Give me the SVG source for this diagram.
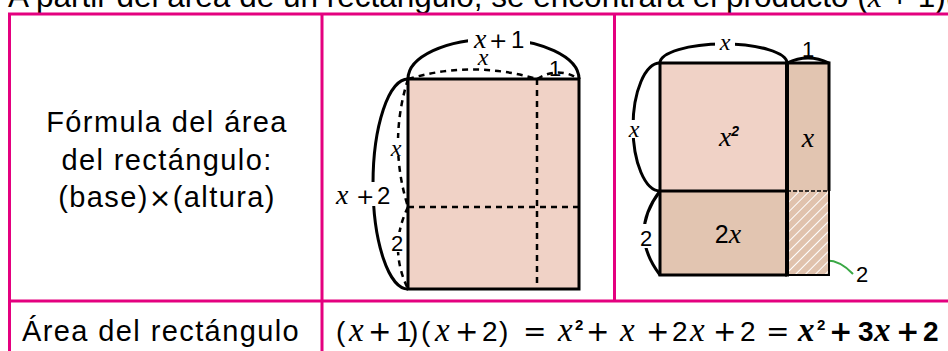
<svg xmlns="http://www.w3.org/2000/svg" width="948" height="351" viewBox="0 0 948 351">
<defs>
<pattern id="hatch" patternUnits="userSpaceOnUse" width="7" height="7" patternTransform="rotate(45)">
<rect width="7" height="7" fill="#e0c2ad"/>
<line x1="0" y1="0" x2="0" y2="7" stroke="#ffffff" stroke-width="2"/>
</pattern>
</defs>
<style>
.t{font-family:"Liberation Sans",Arial,sans-serif;fill:#000}
.i{font-family:"Liberation Serif","Times New Roman",serif;font-style:italic}
.s{font-family:"Liberation Sans",Arial,sans-serif}
.m{font-family:"DejaVu Sans",sans-serif}
.tbl{stroke:#e4007f;stroke-width:3;fill:none}
.solid{fill:none;stroke:#000;stroke-width:3}
.dash{fill:none;stroke:#000;stroke-width:2.5;stroke-dasharray:6 5}
.light{fill:#f0d2c6}
.dark{fill:#e2c5b1}
.bg{fill:#fff}
.wide{letter-spacing:1.4px}
</style>
<text class="t" x="8" y="7" font-size="31.5">A partir del área de un rectángulo, se encontrará el producto (<tspan class="i">x</tspan> + 1)(<tspan class="i">x</tspan> + 2).</text>

<g id="table">
<path class="tbl" d="M9.5,351 V14 H948 M322,14 V351 M614.5,14 V301 M9.5,301 H948"/>
</g>

<g id="formula-label">
<text class="t wide" font-size="29" text-anchor="middle"><tspan x="167" y="132">Fórmula del área</tspan><tspan x="167" y="170">del rectángulo:</tspan><tspan x="167" y="207">(base)<tspan class="m" font-size="27">×</tspan>(altura)</tspan></text>
</g>

<g id="rect-middle">
<rect x="408" y="79" width="171" height="210" class="light" stroke="#000" stroke-width="3"/>
<path class="dash" d="M537,79 V289 M408,207 H579"/>
</g>

<g id="connectors">
<path class="solid" d="M408,79 A85.5,40 0 0 1 579,79"/>
<path class="dash" d="M408,79 Q472,60 537,79"/>
<path class="dash" d="M537,79 Q558,66 579,79"/>
<path class="solid" d="M408,79 A35,105 0 0 0 408,289"/>
<path class="dash" d="M408,79 Q388,143 408,207"/>
<path class="dash" d="M408,207 Q388,248 408,289"/>
<path class="solid" d="M660,63 A63.5,19 0 0 1 787,63"/>
<path class="solid" stroke-width="2.5" d="M787,63 Q808,53 829,63"/>
<path class="solid" d="M660,63 A27,64 0 0 0 660,191"/>
<path class="solid" stroke-width="2.5" d="M660,191 Q628,233 660,275"/>
<path fill="none" stroke="#3aa845" stroke-width="2" d="M810,266 Q832,252 853,274"/>
</g>

<g id="labels-middle">
<rect class="bg" x="468" y="30" width="62" height="19"/>
<text class="t" y="48" font-size="24"><tspan class="i" x="474" font-size="28">x</tspan><tspan class="m" x="489" font-size="22">+</tspan><tspan x="511">1</tspan></text>
<rect class="bg" x="475" y="53" width="16" height="12"/>
<text class="i" x="483" y="65" font-size="24" text-anchor="middle">x</text>
<text class="t" x="555" y="76" font-size="22" text-anchor="middle">1</text>
<rect class="bg" x="331" y="182" width="60" height="24"/>
<text class="t" y="204" font-size="24"><tspan class="i" x="336" font-size="28">x</tspan><tspan class="m" x="356" font-size="22">+</tspan><tspan x="377">2</tspan></text>
<rect class="bg" x="389" y="138" width="14" height="18"/>
<text class="i" x="396" y="156" font-size="24" text-anchor="middle">x</text>
<rect class="bg" x="390" y="232" width="13" height="20"/>
<text class="t" x="397" y="251" font-size="22" text-anchor="middle">2</text>
</g>

<g id="square-x2">
<rect x="660" y="63" width="127" height="128" class="light"/>
<rect x="787" y="63" width="42" height="128" class="dark"/>
<rect x="660" y="191" width="127" height="84" class="dark"/>
<rect x="787" y="191" width="42" height="84" fill="url(#hatch)"/>
<path fill="none" stroke="#000" stroke-width="1.5" stroke-dasharray="4 2" d="M787,191 H829"/>
<path fill="none" stroke="#000" stroke-width="2" d="M829,191 V275 H787"/>
<path fill="none" stroke="#000" stroke-width="3" d="M787,63 H660 V275 H787 M660,191 H787 M787,63 H829 V191"/>
<path fill="none" stroke="#000" stroke-width="4" d="M787,61.5 V276.5"/>
<text class="i" x="729" y="146" font-size="28" text-anchor="middle">x<tspan class="s" font-size="14" dy="-10" font-weight="bold">2</tspan></text>
<text class="i" x="808" y="147" font-size="28" text-anchor="middle">x</text>
<text class="t" x="728" y="243" font-size="25" text-anchor="middle">2<tspan class="i" font-size="28">x</tspan></text>
</g>

<g id="labels-right">
<rect class="bg" x="715" y="32" width="20" height="18"/>
<text class="i" x="725" y="50" font-size="24" text-anchor="middle">x</text>
<text class="t" x="808" y="57" font-size="22" text-anchor="middle">1</text>
<rect class="bg" x="625" y="120" width="18" height="18"/>
<text class="i" x="634" y="137" font-size="24" text-anchor="middle">x</text>
<rect class="bg" x="638" y="224" width="15" height="24"/>
<text class="t" x="646" y="246" font-size="22" text-anchor="middle">2</text>
<text class="t" x="862" y="282" font-size="22" text-anchor="middle">2</text>
</g>

<g id="area-row">
<text class="t wide" x="22" y="341" font-size="29">Área del rectángulo</text>
<text class="t" y="341" font-size="28"><tspan x="336">(</tspan><tspan class="i" x="349" font-size="33">x</tspan><tspan class="m" x="368">+</tspan><tspan x="396">1</tspan><tspan x="409">)</tspan><tspan x="421">(</tspan><tspan class="i" x="435" font-size="33">x</tspan><tspan class="m" x="455">+</tspan><tspan x="482">2</tspan><tspan x="499">)</tspan><tspan class="m" x="523">=</tspan><tspan class="i" x="558" font-size="33">x</tspan><tspan x="575" y="330" font-size="15" font-weight="bold">2</tspan><tspan class="m" x="586" y="341">+</tspan><tspan class="i" x="620" font-size="33">x</tspan><tspan class="m" x="646">+</tspan><tspan x="672">2</tspan><tspan class="i" x="690" font-size="33">x</tspan><tspan class="m" x="713">+</tspan><tspan x="740">2</tspan><tspan class="m" x="766">=</tspan><tspan font-weight="bold"><tspan class="i" x="798" font-size="33">x</tspan><tspan x="817" y="330" font-size="15">2</tspan><tspan class="m" x="829" y="341">+</tspan><tspan x="858">3</tspan><tspan class="i" x="874" font-size="33">x</tspan><tspan class="m" x="896">+</tspan><tspan x="923">2</tspan></tspan></text>
</g>
</svg>
